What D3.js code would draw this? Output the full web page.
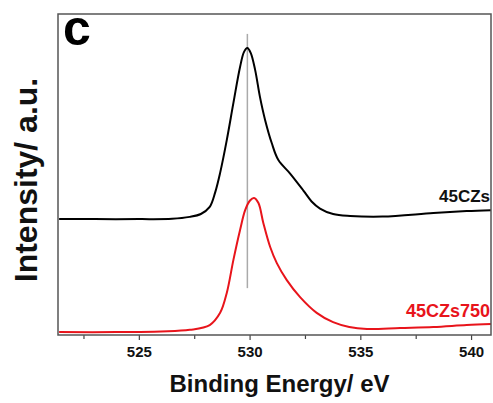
<!DOCTYPE html>
<meta charset="utf-8">
<style>
body { margin: 0; background: #fff; }
text { font-family: Arial, "Liberation Sans", sans-serif; font-weight: bold; }
.line45 { fill: none; stroke: #000; stroke-width: 2px; }
.line750 { fill: none; stroke: #e8141b; stroke-width: 2px; }
</style>
<body>
<script src="https://cdn.jsdelivr.net/npm/d3@7"></script>
<script>

// binding energy (eV) and intensity (a.u.)
var energy45 = [521.4, 523, 525, 526.5, 527.3, 527.8, 528.2, 528.45, 528.67, 528.97, 529.27, 529.57, 529.75, 529.9,
  530.05, 530.25, 530.47, 530.7, 531.0, 531.3, 531.83, 532.43, 532.8, 533.18, 533.77, 534.54, 536.0, 538.3, 539.8, 540.9];
var int45 = [36.1, 36.1, 36.1, 36.2, 36.8, 37.7, 39.9, 44.5, 50.5, 60.7, 72.3, 83.5, 88.2, 89.4,
  87.9, 82.6, 74.1, 67.0, 59.8, 54.5, 50.3, 45.0, 41.6, 39.4, 37.7, 37.1, 36.9, 38.0, 38.6, 38.9];

var energy750 = [521.4, 524, 526, 527.3, 528.2, 528.67, 528.97, 529.27, 529.57, 529.8, 530.02, 530.2, 530.4,
  530.62, 530.93, 531.23, 531.68, 532.28, 533.03, 533.77, 534.5, 535.3, 536.8, 538.3, 539.8, 540.9];
var int750 = [0.9, 0.9, 1.1, 1.6, 3.1, 6.9, 13.1, 23.4, 32.7, 38.9, 41.9, 42.7, 41.1,
  34.9, 27.4, 22.4, 17.1, 11.8, 6.9, 4.0, 2.5, 1.9, 2.2, 2.5, 3.1, 3.4];

var majorTicks = [525, 530, 535, 540];
var minorTicks = [522.5, 527.5, 532.5, 537.5];
var refEnergy = 529.9;   // grey marker line
var seriesNames = ["45CZs", "45CZs750"];

var margin = {top: 14, right: 2, bottom: 68, left: 58},
    width = 493 - margin.left - margin.right,
    height = 403 - margin.top - margin.bottom;

var x = d3.scaleLinear().domain([521.35, 540.9]).range([0, width]);
var y = d3.scaleLinear().domain([0, 100]).range([height, 0]);

var svg = d3.select("body").append("svg")
    .attr("width", 493)
    .attr("height", 403)
  .append("g")
    .attr("transform", "translate(" + margin.left + "," + margin.top + ")");

var line = d3.line()
    .curve(d3.curveCatmullRom.alpha(0.5))
    .x(function(d) { return x(d[0]); })
    .y(function(d) { return y(d[1]); });

var data45 = d3.zip(energy45, int45);
var data750 = d3.zip(energy750, int750);

svg.append("defs").append("clipPath").attr("id", "clip")
  .append("rect").attr("width", width).attr("height", height);

// reference line
svg.append("line")
    .attr("x1", x(refEnergy)).attr("x2", x(refEnergy))
    .attr("y1", y(93.8)).attr("y2", y(14.6))
    .attr("stroke", "#aaa").attr("stroke-width", 1.5);

svg.append("path").datum(data45).attr("class", "line45")
    .attr("clip-path", "url(#clip)").attr("d", line);
svg.append("path").datum(data750).attr("class", "line750")
    .attr("clip-path", "url(#clip)").attr("d", line);

// x axis: major + minor ticks
svg.append("g")
    .attr("transform", "translate(0," + height + ")")
    .call(d3.axisBottom(x).tickValues(minorTicks).tickSize(4).tickFormat(""))
    .call(function(g) { g.select(".domain").remove(); g.selectAll("line").attr("stroke", "#444").attr("stroke-width", 1.2); });

var xAxis = svg.append("g")
    .attr("transform", "translate(0," + height + ")")
    .call(d3.axisBottom(x).tickValues(majorTicks).tickSize(5).tickPadding(6).tickFormat(d3.format("d")));
xAxis.select(".domain").remove();
xAxis.selectAll("line").attr("stroke", "#444").attr("stroke-width", 1.2);
xAxis.selectAll("text").attr("font-size", "15px").attr("fill", "#111")
    .style("font-family", "Arial, 'Liberation Sans', sans-serif").style("font-weight", "bold");

// frame
svg.append("rect")
    .attr("width", width).attr("height", height)
    .attr("fill", "none").attr("stroke", "#555").attr("stroke-width", 1.5);

// series labels
svg.append("text")
    .attr("x", width - 1).attr("y", 188)
    .attr("text-anchor", "end").attr("font-size", "17px").attr("fill", "#111")
    .text(seriesNames[0]);
svg.append("text")
    .attr("x", width - 1).attr("y", 303)
    .attr("text-anchor", "end").attr("font-size", "18px").attr("fill", "#e8141b")
    .text(seriesNames[1]);

// panel letter
svg.append("text")
    .attr("x", 5).attr("y", 31)
    .attr("font-size", "50px").attr("fill", "#000")
    .text("c");

// axis titles
svg.append("text")
    .attr("x", width / 2 + 5).attr("y", 392 - margin.top)
    .attr("text-anchor", "middle").attr("font-size", "24px").attr("fill", "#111")
    .text("Binding Energy/ eV");

svg.append("text")
    .attr("transform", "translate(" + (37 - margin.left) + "," + (180 - margin.top) + ") rotate(-90)")
    .attr("text-anchor", "middle").attr("font-size", "32px").attr("fill", "#111")
    .text("Intensity/ a.u.");

</script>
</body>
